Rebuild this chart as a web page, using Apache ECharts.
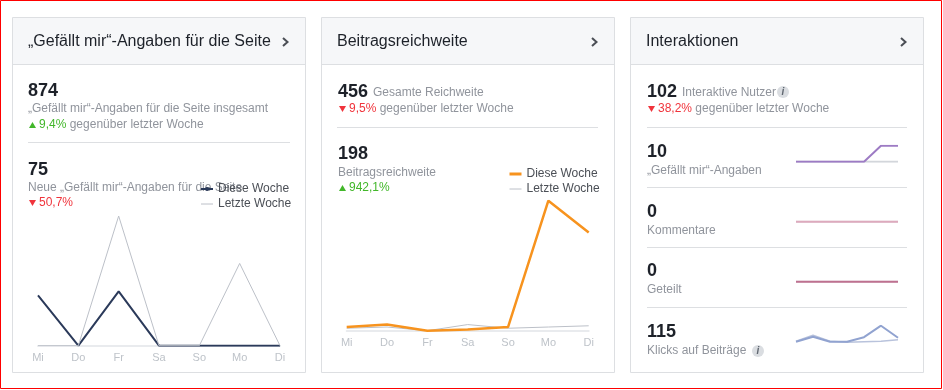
<!DOCTYPE html>
<html>
<head>
<meta charset="utf-8">
<script src="https://cdn.jsdelivr.net/npm/echarts@6/dist/echarts.min.js"></script>
<style>
html,body{margin:0;padding:0;background:#fff;}
#c{width:943px;height:390px;}
</style>
</head>
<body>
<div id="c"></div>
<script>
// ---- data ----
const days = ['Mi', 'Do', 'Fr', 'Sa', 'So', 'Mo', 'Di'];
const likesThisWeek = [36, 0, 39, 0, 0, 0, 0];
const likesLastWeek = [0, 0, 93, 0, 0, 59, 0];
const reachThisWeek = [3, 5, 0, 1, 3, 106, 80];
const reachLastWeek = [2, 3, 0, 5, 2, 3, 4];
const sparkLikesThis = [0, 0, 0, 0, 0, 5, 5];
const sparkLikesLast = [0, 0, 0, 0, 0, 0, 0];
const commentsThis = [0, 0, 0, 0, 0, 0, 0];
const commentsLast = [0, 0, 0, 0, 0, 0, 0];
const sharesThis = [0, 0, 0, 0, 0, 0, 0];
const sharesLast = [0, 0, 0, 0, 0, 0, 0];
const clicksThis = [8, 18, 8, 8, 17, 40, 16];
const clicksLast = [9, 21, 9, 7, 8, 9, 12];

const FF = "'Liberation Sans', Arial, Helvetica, sans-serif";
const DARK = '#1d2129', GRAY = '#90949c', GREEN = '#42b72a', RED = '#f0343c', LINE = '#dddfe2';

const chart = echarts.init(document.getElementById('c'));
const g = [];
function txt(x, y, text, size, color, weight) {
  g.push({type: 'text', x: x, y: y, z: 10, style: {text: text, fill: color,
    font: (weight || 'normal') + ' ' + size + 'px ' + FF,
    verticalAlign: 'middle', textVerticalAlign: 'middle', align: 'left', textAlign: 'left'}});
}
function hline(x1, x2, y) {
  g.push({type: 'line', z: 5, shape: {x1: x1, y1: y + 0.5, x2: x2, y2: y + 0.5}, style: {stroke: LINE, lineWidth: 1}});
}
function tri(x, y, up) {
  const pts = up ? [[x, y + 3], [x + 7, y + 3], [x + 3.5, y - 3]] : [[x, y - 3], [x + 7, y - 3], [x + 3.5, y + 3]];
  g.push({type: 'polygon', z: 10, shape: {points: pts}, style: {fill: up ? GREEN : RED}});
}
function change(x, y, up, pct, rest) {
  tri(x + 1, y, up);
  g.push({type: 'text', x: x + 11, y: y, z: 10, style: {
    text: '{p|' + pct + '}' + (rest ? '{t| ' + rest + '}' : ''),
    verticalAlign: 'middle', textVerticalAlign: 'middle',
    font: '12px ' + FF,
    rich: {p: {fill: up ? GREEN : RED, fontSize: 12, fontFamily: FF},
           t: {fill: GRAY, fontSize: 12, fontFamily: FF}}}});
}
function info(x, y) {
  g.push({type: 'circle', z: 10, shape: {cx: x, cy: y, r: 6}, style: {fill: '#dadde1'}});
  g.push({type: 'text', x: x, y: y, z: 11, style: {text: 'i', fill: '#606770',
    font: 'italic bold 10px ' + FF, align: 'center', textAlign: 'center', verticalAlign: 'middle', textVerticalAlign: 'middle'}});
}
function panel(px, title) {
  g.push({type: 'rect', z: 1, shape: {x: px + 0.5, y: 17.5, width: 293, height: 355}, style: {fill: '#fff', stroke: LINE, lineWidth: 1}});
  g.push({type: 'rect', z: 2, shape: {x: px + 1, y: 18, width: 292, height: 46}, style: {fill: '#f6f7f9'}});
  g.push({type: 'line', z: 3, shape: {x1: px + 1, y1: 64.5, x2: px + 293, y2: 64.5}, style: {stroke: LINE, lineWidth: 1}});
  txt(px + 16, 42, title, 16, DARK);
  g.push({type: 'polyline', z: 3, shape: {points: [[px + 271, 38], [px + 275.5, 42], [px + 271, 46]]}, style: {stroke: '#4b4f56', lineWidth: 2, fill: null}});
}
// outer red frame
g.push({type: 'rect', z: 0, shape: {x: 0.5, y: 0.5, width: 941, height: 388}, style: {fill: null, stroke: '#ff0000', lineWidth: 1}});

// Panel 1
panel(12, '\u201EGef\u00E4llt mir\u201C-Angaben f\u00FCr die Seite');
txt(28, 91, '874', 18, DARK, 'bold');
txt(28, 109, '\u201EGef\u00E4llt mir\u201C-Angaben f\u00FCr die Seite insgesamt', 12, GRAY);
change(28, 125, true, '9,4%', 'gegen\u00FCber letzter Woche');
hline(28, 290, 142);
txt(28, 170, '75', 18, DARK, 'bold');
txt(28, 188, 'Neue \u201EGef\u00E4llt mir\u201C-Angaben f\u00FCr die Seite', 12, GRAY);
change(28, 203, false, '50,7%', '');

// Panel 2
panel(321, 'Beitragsreichweite');
txt(338, 92, '456', 18, DARK, 'bold');
txt(373, 93, 'Gesamte Reichweite', 12, GRAY);
change(338, 109, false, '9,5%', 'gegen\u00FCber letzter Woche');
hline(337, 598, 127);
txt(338, 154, '198', 18, DARK, 'bold');
txt(338, 173, 'Beitragsreichweite', 12, GRAY);
change(338, 188, true, '942,1%', '');

// Panel 3
panel(630, 'Interaktionen');
txt(647, 92, '102', 18, DARK, 'bold');
txt(682, 93, 'Interaktive Nutzer', 12, GRAY);
info(783, 92);
change(647, 109, false, '38,2%', 'gegen\u00FCber letzter Woche');
hline(647, 907, 127);
txt(647, 152, '10', 18, DARK, 'bold');
txt(647, 171, '\u201EGef\u00E4llt mir\u201C-Angaben', 12, GRAY);
hline(647, 907, 187);
txt(647, 212, '0', 18, DARK, 'bold');
txt(647, 231, 'Kommentare', 12, GRAY);
hline(647, 907, 247);
txt(647, 271, '0', 18, DARK, 'bold');
txt(647, 290, 'Geteilt', 12, GRAY);
hline(647, 907, 307);
txt(647, 332, '115', 18, DARK, 'bold');
txt(647, 351, 'Klicks auf Beitr\u00E4ge', 12, GRAY);
info(758, 351);

const grids = [
  {left: 38, top: 216, width: 242, height: 129.7},
  {left: 346.7, top: 200.7, width: 242, height: 130},
  {left: 796, top: 145.7, width: 102, height: 16},
  {left: 796, top: 213.7, width: 102, height: 16},
  {left: 796, top: 273.7, width: 102, height: 16},
  {left: 796, top: 325.7, width: 102, height: 20}
];
const yRanges = [[0, 93], [0, 106], [0, 5], [-1, 1], [-1, 1], [0, 40]];
const xAxes = grids.map((gr, i) => ({
  gridIndex: i, type: 'category', data: days, boundaryGap: false,
  show: i < 2, z: 6,
  axisTick: {show: false},
  axisLine: {show: i < 2, lineStyle: {color: '#e9ebee', width: 2}},
  axisLabel: {color: '#bec3c9', fontSize: 11, fontFamily: FF, margin: 7},
  splitLine: {show: false}
}));
const yAxes = grids.map((gr, i) => ({
  gridIndex: i, type: 'value', show: false, min: yRanges[i][0], max: yRanges[i][1], splitLine: {show: false}
}));
function ser(name, i, data, color, width, z) {
  return {name: name, type: 'line', xAxisIndex: i, yAxisIndex: i, data: data, symbol: 'none', showSymbol: false,
    smooth: false, z: z, lineStyle: {color: color, width: width}, itemStyle: {color: color}, silent: true};
}
const NAVY = '#2b3a5a', LG = '#bcc0c8', ORANGE = '#f7931e';
const series = [
  ser('a|Diese Woche', 0, likesThisWeek, NAVY, 2, 7),
  ser('a|Letzte Woche', 0, likesLastWeek, LG, 1, 8),
  ser('b|Letzte Woche', 1, reachLastWeek, LG, 1, 7),
  ser('b|Diese Woche', 1, reachThisWeek, ORANGE, 2.5, 8),
  ser('c|last', 2, sparkLikesLast, '#d3d6db', 2, 7),
  ser('c|this', 2, sparkLikesThis, '#9d7bc4', 2, 8),
  ser('d|last', 3, commentsLast, '#e6e8ec', 2, 7),
  ser('d|this', 3, commentsThis, '#ddaabd', 2, 8),
  ser('e|last', 4, sharesLast, '#e6e8ec', 2, 7),
  ser('e|this', 4, sharesThis, '#be7190', 2, 8),
  ser('f|last', 5, clicksLast, '#b9c3dc', 1.5, 7),
  ser('f|this', 5, clicksThis, '#91a3d0', 2, 8)
];
const legBase = {orient: 'vertical', itemWidth: 12, itemHeight: 5, itemGap: 3, padding: 0, z: 12, selectedMode: false,
  textStyle: {color: '#4b4f56', fontSize: 12, fontFamily: FF},
  formatter: n => n.split('|')[1]};
chart.setOption({
  animation: false,
  grid: grids,
  xAxis: xAxes,
  yAxis: yAxes,
  series: series,
  legend: [
    Object.assign({}, legBase, {left: 200, top: 183, data: [
      {name: 'a|Diese Woche'},
      {name: 'a|Letzte Woche', itemStyle: {opacity: 0}, lineStyle: {width: 1, color: LG}}
    ]}),
    Object.assign({}, legBase, {left: 508, top: 168, data: [
      {name: 'b|Diese Woche', itemStyle: {opacity: 0}, lineStyle: {width: 3, color: ORANGE}},
      {name: 'b|Letzte Woche', itemStyle: {opacity: 0}, lineStyle: {width: 1, color: LG}}
    ]})
  ],
  graphic: {elements: g}
});
</script>
</body>
</html>
